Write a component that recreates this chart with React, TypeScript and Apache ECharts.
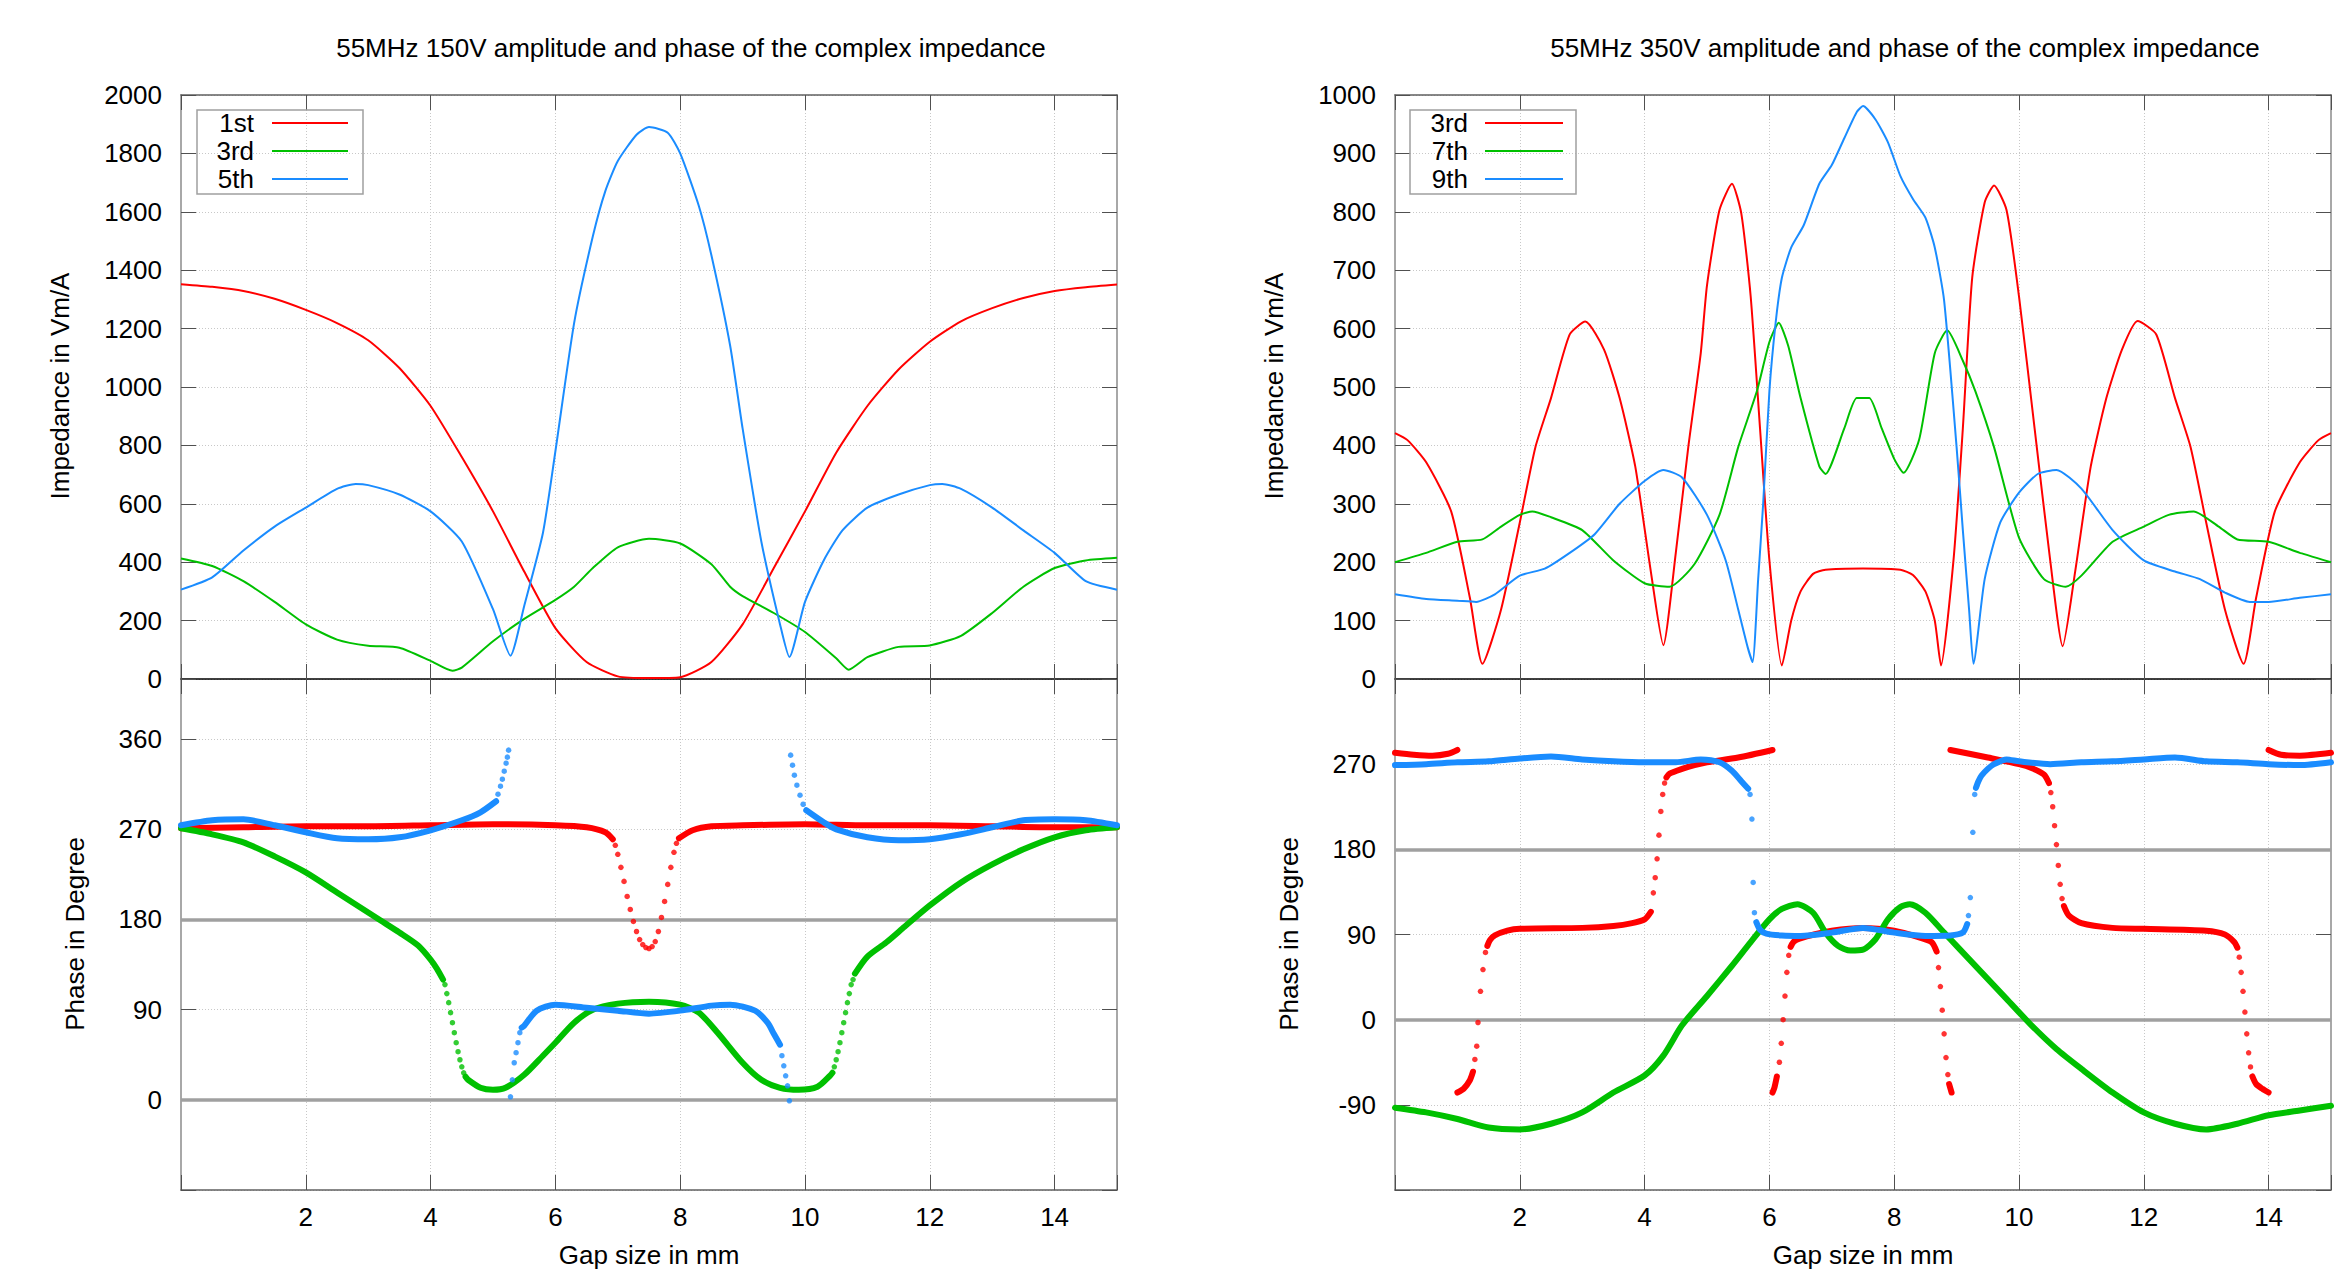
import React, { useEffect, useRef } from 'react';
import * as echarts from 'echarts';

type P = [number, number];

// ---------- texts ----------
const TITLE_LEFT = '55MHz 150V amplitude and phase of the complex impedance';
const TITLE_RIGHT = '55MHz 350V amplitude and phase of the complex impedance';
const Y_NAME_IMP = 'Impedance in Vm/A';
const Y_NAME_PHASE = 'Phase in Degree';
const X_NAME = 'Gap size in mm';
const LEGEND_LEFT = ['1st', '3rd', '5th'];
const LEGEND_RIGHT = ['3rd', '7th', '9th'];

// ---------- tick labels ----------
const X_TICK_LABELS = [2, 4, 6, 8, 10, 12, 14];
const IMP_LEFT_TICKS = [0, 200, 400, 600, 800, 1000, 1200, 1400, 1600, 1800, 2000];
const IMP_RIGHT_TICKS = [0, 100, 200, 300, 400, 500, 600, 700, 800, 900, 1000];
const PHASE_LEFT_TICKS = [0, 90, 180, 270, 360];
const PHASE_RIGHT_TICKS = [-90, 0, 90, 180, 270];
const PHASE_REF_LINES = [0, 180];

// ---------- left panel (150 V) impedance ----------
const impL1st: P[] = [[0,1352],[0.5,1343],[1,1329],[1.5,1302],[2,1264],[2.5,1219],[3,1160],[3.5,1065],[4,935],[4.5,760],[5,574],[5.5,368],[6,174],[6.5,58],[7,9],[7.5,3],[8,6],[8.5,58],[9,187],[9.5,380],[10,574],[10.5,775],[11,935],[11.5,1060],[12,1155],[12.5,1225],[13,1270],[13.5,1305],[14,1329],[14.5,1342],[15,1351]];
const impL3rd: P[] = [[0,413],[0.5,387],[1,335],[1.5,264],[2,187],[2.5,135],[3,114],[3.5,107],[4,62],[4.35,28],[4.5,39],[5,129],[5.5,206],[6,271],[6.3,316],[6.6,380],[7,451],[7.5,480],[8,464],[8.5,393],[8.8,316],[9,284],[9.5,226],[10,161],[10.5,71],[10.7,32],[11,75],[11.5,110],[12,115],[12.5,148],[13,226],[13.5,316],[14,380],[14.5,406],[15,415]];
const impL5th: P[] = [[0,306],[0.5,348],[1,440],[1.5,522],[2,587],[2.5,651],[2.8,668],[3,664],[3.5,632],[4,574],[4.5,471],[5,239],[5.28,80],[5.5,250],[5.8,500],[6,780],[6.3,1219],[6.6,1516],[6.8,1671],[7,1774],[7.3,1864],[7.5,1890],[7.8,1871],[8,1800],[8.3,1619],[8.5,1451],[8.8,1142],[9,858],[9.3,471],[9.6,187],[9.75,75],[10,264],[10.3,406],[10.6,509],[11,587],[11.5,632],[12,664],[12.2,668],[12.5,651],[13,587],[13.5,509],[14,432],[14.5,335],[15,306]];

// ---------- right panel (350 V) impedance ----------
const impR3rd: P[] = [[0,421],[0.2,409],[0.5,371],[0.9,287],[1.2,139],[1.4,26],[1.7,119],[2,268],[2.25,397],[2.5,481],[2.8,590],[3.05,612],[3.35,564],[3.6,481],[3.85,364],[4.1,184],[4.3,58],[4.5,216],[4.7,397],[4.9,558],[5,674],[5.2,803],[5.4,848],[5.55,797],[5.7,655],[5.85,429],[6,203],[6.2,23],[6.35,100],[6.5,150],[6.7,180],[6.9,187],[7.5,189],[8.1,187],[8.3,178],[8.5,150],[8.65,100],[8.75,23],[8.95,203],[9.1,429],[9.25,687],[9.45,816],[9.6,845],[9.8,803],[10,655],[10.25,429],[10.5,203],[10.7,56],[10.9,184],[11.15,364],[11.4,481],[11.65,564],[11.9,613],[12.2,590],[12.5,481],[12.75,397],[13,268],[13.3,119],[13.6,26],[13.8,139],[14.1,287],[14.5,371],[14.8,409],[15,421]];
const impR7th: P[] = [[0,200],[0.5,216],[1,235],[1.4,239],[1.7,261],[2,281],[2.2,287],[2.5,277],[3,255],[3.5,203],[4,164],[4.4,158],[4.8,197],[5.2,281],[5.5,397],[5.8,493],[6,577],[6.15,610],[6.3,571],[6.5,481],[6.8,364],[6.9,351],[7.2,429],[7.4,481],[7.6,481],[7.8,429],[8,377],[8.15,353],[8.4,410],[8.65,558],[8.85,597],[9.1,545],[9.3,493],[9.6,397],[10,242],[10.4,171],[10.75,158],[11,177],[11.5,235],[12,261],[12.4,281],[12.8,287],[13.2,261],[13.5,239],[14,235],[14.5,216],[15,200]];
const impR9th: P[] = [[0,145],[0.5,137],[1,134],[1.3,132],[1.6,145],[2,177],[2.4,189],[2.8,216],[3.2,248],[3.6,300],[4,339],[4.3,358],[4.6,345],[5,281],[5.3,203],[5.5,119],[5.65,55],[5.73,29],[5.82,171],[5.9,300],[6,493],[6.1,610],[6.2,687],[6.35,739],[6.55,777],[6.8,848],[7,880],[7.2,926],[7.4,971],[7.5,981],[7.7,958],[7.9,919],[8.1,861],[8.3,822],[8.5,790],[8.65,739],[8.8,648],[9,397],[9.1,255],[9.2,119],[9.27,26],[9.45,171],[9.7,268],[10,319],[10.3,351],[10.6,358],[11,326],[11.5,255],[12,203],[12.5,184],[12.9,171],[13.3,148],[13.7,132],[14,132],[14.5,139],[15,145]];

// ---------- left panel phase (bands = dense sample runs, dots = sparse samples) ----------
const phL1stBands: P[][] = [
  [[0,271],[1,272],[2,273],[3,273],[4,274],[5,275],[6,274],[6.5,272],[6.8,267],[6.92,260]],
  [[7.98,261],[8.2,269],[8.5,273],[9,274],[10,275],[11,274],[12,274],[13,273],[14,272],[15,272]],
];
const phL1stDots: P[] = [[6.96,254],[7.0,245],[7.05,232],[7.1,218],[7.15,203],[7.2,190],[7.25,178],[7.3,168],[7.35,160],[7.4,155],[7.45,152],[7.5,151],[7.55,153],[7.6,158],[7.65,168],[7.7,182],[7.75,198],[7.8,215],[7.85,232],[7.9,247],[7.94,256]];
const phL3rdBands: P[][] = [
  [[0,271],[0.5,265],[1,257],[1.5,243],[2,227],[2.5,207],[3,187],[3.2,179],[3.5,167],[3.8,154],[4.0,140],[4.1,131],[4.2,120]],
  [[4.56,23],[4.6,20],[4.8,12],[5.0,10],[5.2,12],[5.5,25],[5.8,44],[6.0,57],[6.3,77],[6.6,90],[7.0,96],[7.5,98],[8.0,95],[8.3,87],[8.6,67],[9.0,37],[9.3,20],[9.6,12],[9.9,10],[10.2,13],[10.4,24],[10.44,27]],
  [[10.8,126],[11,143],[11.3,157],[11.6,173],[12,194],[12.5,217],[13,235],[13.5,250],[14,262],[14.5,269],[15,272]],
];
const phL3rdDots: P[] = [[4.23,115],[4.26,106],[4.29,97],[4.32,87],[4.35,77],[4.38,67],[4.41,57],[4.44,48],[4.47,40],[4.5,33],[4.53,27],[10.47,33],[10.5,40],[10.53,48],[10.56,57],[10.59,67],[10.62,77],[10.65,87],[10.68,97],[10.71,106],[10.74,115],[10.77,120]];
const phL5thBands: P[][] = [
  [[0,274],[0.5,279],[1,280],[1.5,274],[2,267],[2.5,261],[3,260],[3.5,262],[4,269],[4.5,279],[4.8,287],[5.05,298]],
  [[5.46,72],[5.5,74],[5.7,89],[6,95],[6.5,92],[7,89],[7.5,86],[8,89],[8.5,94],[8.8,95],[9.2,89],[9.4,77],[9.5,66],[9.6,55]],
  [[10.02,289],[10.3,277],[10.5,270],[11,262],[11.5,259],[12,260],[12.5,265],[13,272],[13.5,279],[14,280],[14.5,279],[15,274]],
];
const phL5thDots: P[] = [[5.08,305],[5.12,313],[5.15,320],[5.18,328],[5.21,336],[5.23,342],[5.25,349],[5.28,3],[5.31,20],[5.34,37],[5.37,47],[5.4,57],[5.43,67],[9.63,44],[9.66,34],[9.69,24],[9.72,14],[9.75,-1],[9.77,344],[9.8,334],[9.83,324],[9.87,314],[9.92,304],[9.97,295]];

// ---------- right panel phase ----------
const phR3rdBands: P[][] = [
  [[0,282],[0.3,280],[0.6,279],[0.85,281],[1.0,285]],
  [[1.0,-77],[1.1,-73],[1.2,-64],[1.25,-55]],
  [[1.48,78],[1.52,84],[1.6,89],[1.8,94],[2,96],[3,97],[3.5,99],[3.8,102],[4.0,106],[4.1,114]],
  [[4.35,256],[4.4,260],[4.6,265],[4.8,269],[5,272],[5.5,277],[6.05,285]],
  [[6.05,-77],[6.08,-72],[6.12,-60]],
  [[6.34,77],[6.4,83],[6.6,88],[7,94],[7.5,97],[8,94],[8.4,87],[8.6,82],[8.68,72]],
  [[8.88,-68],[8.92,-77]],
  [[8.9,285],[9.5,277],[10,270],[10.2,266],[10.4,259],[10.48,250]],
  [[10.72,120],[10.8,110],[11,102],[11.5,97],[12,96],[13,94],[13.3,90],[13.45,82],[13.5,76]],
  [[13.74,-60],[13.8,-68],[13.9,-73],[14.0,-77]],
  [[14,285],[14.2,280],[14.5,279],[15,282]],
];
const phR3rdDots: P[] = [[1.28,-42],[1.31,-28],[1.33,-3],[1.37,30],[1.41,53],[1.45,71],[4.14,134],[4.17,150],[4.2,170],[4.23,195],[4.26,220],[4.29,238],[4.32,250],[6.16,-45],[6.19,-25],[6.22,0],[6.25,25],[6.28,50],[6.31,68],[8.71,55],[8.74,35],[8.77,10],[8.8,-15],[8.83,-40],[8.86,-58],[10.51,240],[10.54,225],[10.57,205],[10.6,185],[10.63,163],[10.66,143],[10.69,128],[13.53,66],[13.56,50],[13.59,30],[13.62,8],[13.65,-15],[13.68,-35],[13.71,-50]];
const phR7thBands: P[][] = [
  [[0,-93],[0.5,-98],[1,-105],[1.5,-114],[2,-116],[2.5,-110],[3,-98],[3.5,-77],[4,-59],[4.3,-38],[4.6,-6],[5,25],[5.4,57],[5.7,82],[6,106],[6.2,117],[6.45,122],[6.7,113],[6.9,92],[7.1,78],[7.3,73],[7.5,74],[7.7,85],[7.9,106],[8.1,119],[8.25,122],[8.5,113],[8.8,92],[9,78],[9.4,50],[9.8,22],[10.2,-6],[10.6,-31],[11,-52],[11.5,-77],[12,-98],[12.5,-110],[13,-116],[13.5,-110],[14,-101],[14.5,-96],[15,-91]],
];
const phR7thDots: P[] = [];
const phR9thBands: P[][] = [
  [[0,269],[0.5,270],[1,272],[1.5,273],[2,276],[2.5,278],[3,275],[3.5,273],[4,272],[4.5,272],[4.9,275],[5.2,272],[5.4,263],[5.55,252],[5.66,244]],
  [[5.79,103],[5.85,95],[5.95,91],[6.2,89],[6.5,88.5],[7,92],[7.5,97],[8,92],[8.5,88.5],[8.9,89],[9.1,92],[9.17,101]],
  [[9.31,245],[9.35,252],[9.4,258],[9.5,265],[9.6,270],[9.8,275],[10,273],[10.5,270],[11,272],[11.5,273],[12,275],[12.5,277],[13,273],[13.5,272],[14,270],[14.5,269],[15,272]],
];
const phR9thDots: P[] = [[5.69,238],[5.72,212],[5.74,145],[5.76,113],[9.19,110],[9.22,129],[9.26,198],[9.29,238]];

// ---------- styling ----------
const FONT = '"Liberation Sans", Arial, Helvetica, sans-serif';
const FS = 26;
const RED = '#ff0000';
const GREEN = '#00c000';
const BLUE = '#1a8cff';

const W = 2344;
const H = 1270;
const PLOT_W = 936;
const LEFT_X = 181;
const RIGHT_X = 1395;
const UP_TOP = 95;
const UP_H = 584;
const LOW_TOP = 679;
const LOW_H = 511;

function buildOption() {
  const grids = [
    { left: LEFT_X, top: UP_TOP, width: PLOT_W, height: UP_H },
    { left: LEFT_X, top: LOW_TOP, width: PLOT_W, height: LOW_H },
    { left: RIGHT_X, top: UP_TOP, width: PLOT_W, height: UP_H },
    { left: RIGHT_X, top: LOW_TOP, width: PLOT_W, height: LOW_H },
  ].map((g) => ({ ...g, containLabel: false, show: false }));

  const xAxes: any[] = [];
  const yAxes: any[] = [];
  const tick = { show: true, inside: true, length: 15, lineStyle: { color: '#505050', width: 1 } };
  const gridLine = { show: true, lineStyle: { color: '#c8c8c8', width: 1, type: [1, 2] } };
  const labelBase = { fontSize: FS, color: '#000', fontFamily: FONT };

  function addAxes(g: number, ymin: number, ymax: number, yint: number, yLabels: number[], lower: boolean) {
    xAxes.push({
      gridIndex: g, type: 'value', min: 0, max: 15, interval: 2, position: 'bottom',
      axisLine: { show: true, onZero: false, lineStyle: { color: lower ? '#606060' : '#000000', width: 1.5 } },
      axisTick: tick, splitLine: gridLine,
      axisLabel: { ...labelBase, show: lower, margin: 14, formatter: (v: number) => (X_TICK_LABELS.includes(v) ? String(v) : '') },
    });
    xAxes.push({
      gridIndex: g, type: 'value', min: 0, max: 15, interval: 2, position: 'top',
      axisLine: { show: !lower, onZero: false, lineStyle: { color: '#606060', width: 1.5 } },
      axisTick: tick, axisLabel: { show: false }, splitLine: { show: false },
    });
    yAxes.push({
      gridIndex: g, type: 'value', min: ymin, max: ymax, interval: yint, position: 'left',
      axisLine: { show: true, onZero: false, lineStyle: { color: '#a8a8a8', width: 2 } },
      axisTick: tick, splitLine: gridLine,
      axisLabel: { ...labelBase, margin: 19, formatter: (v: number) => (yLabels.includes(v) ? String(v) : '') },
    });
    yAxes.push({
      gridIndex: g, type: 'value', min: ymin, max: ymax, interval: yint, position: 'right',
      axisLine: { show: true, onZero: false, lineStyle: { color: '#a8a8a8', width: 2 } },
      axisTick: tick, axisLabel: { show: false }, splitLine: { show: false },
    });
  }
  addAxes(0, 0, 2000, 200, IMP_LEFT_TICKS, false);
  addAxes(1, -90, 420, 90, PHASE_LEFT_TICKS, true);
  addAxes(2, 0, 1000, 100, IMP_RIGHT_TICKS, false);
  addAxes(3, -180, 360, 90, PHASE_RIGHT_TICKS, true);

  const series: any[] = [];
  let z = 3;
  const imp = (data: P[], color: string, g: number) => {
    series.push({
      type: 'line', data, xAxisIndex: 2 * g, yAxisIndex: 2 * g, symbol: 'none', showSymbol: false,
      smooth: 0.2, silent: true, z: z++,
      lineStyle: { color, width: 2, join: 'round' }, itemStyle: { color },
    });
  };
  const phase = (bands: P[][], dots: P[], color: string, g: number) => {
    const zz = z++;
    bands.forEach((b) => {
      series.push({
        type: 'line', data: b, xAxisIndex: 2 * g, yAxisIndex: 2 * g, symbol: 'none', showSymbol: false,
        smooth: 0.25, silent: true, z: zz,
        lineStyle: { color, width: 6, cap: 'round', join: 'round' }, itemStyle: { color },
      });
    });
    if (dots.length) {
      series.push({
        type: 'scatter', data: dots, xAxisIndex: 2 * g, yAxisIndex: 2 * g, symbol: 'circle', symbolSize: 5.5,
        silent: true, z: zz, itemStyle: { color },
      });
    }
  };
  const refLines = (g: number) => {
    series.push({
      type: 'line', data: [], xAxisIndex: 2 * g, yAxisIndex: 2 * g, symbol: 'none', silent: true, z: 2,
      markLine: {
        silent: true, symbol: ['none', 'none'], label: { show: false },
        lineStyle: { color: '#a0a0a0', width: 3.5, type: 'solid' },
        data: PHASE_REF_LINES.map((v) => ({ yAxis: v })),
      },
    });
  };

  imp(impL1st, RED, 0);
  imp(impL3rd, GREEN, 0);
  imp(impL5th, BLUE, 0);
  refLines(1);
  phase(phL1stBands, phL1stDots, RED, 1);
  phase(phL3rdBands, phL3rdDots, GREEN, 1);
  phase(phL5thBands, phL5thDots, BLUE, 1);
  imp(impR3rd, RED, 2);
  imp(impR7th, GREEN, 2);
  imp(impR9th, BLUE, 2);
  refLines(3);
  phase(phR3rdBands, phR3rdDots, RED, 3);
  phase(phR7thBands, phR7thDots, GREEN, 3);
  phase(phR9thBands, phR9thDots, BLUE, 3);

  const txt = (text: string, x: number, y: number, opts: any = {}) => ({
    type: 'text', x, y, rotation: opts.rotation || 0, z: 100,
    style: {
      text, fill: '#000', font: `${FS}px ${FONT}`, fontSize: FS, fontFamily: FONT,
      align: opts.align || 'center', textAlign: opts.align || 'center',
      verticalAlign: 'middle', textVerticalAlign: 'middle',
    },
  });

  const legend = (x0: number, names: string[], colors: string[], textRight: number, l1: number, l2: number) => {
    const els: any[] = [
      { type: 'rect', shape: { x: x0, y: 110, width: 166, height: 84 }, style: { fill: 'rgba(0,0,0,0)', stroke: '#a0a0a0', lineWidth: 1.5 }, z: 100 },
    ];
    const rows = [123, 151, 179];
    names.forEach((n, i) => {
      els.push(txt(n, textRight, rows[i], { align: 'right' }));
      els.push({ type: 'line', shape: { x1: l1, y1: rows[i], x2: l2, y2: rows[i] }, style: { stroke: colors[i], lineWidth: 2 }, z: 100 });
    });
    return els;
  };

  const graphic: any[] = [
    txt(TITLE_LEFT, 691, 48),
    txt(TITLE_RIGHT, 1905, 48),
    txt(Y_NAME_IMP, 60, 386, { rotation: Math.PI / 2 }),
    txt(Y_NAME_PHASE, 75, 934, { rotation: Math.PI / 2 }),
    txt(Y_NAME_IMP, 1274, 386, { rotation: Math.PI / 2 }),
    txt(Y_NAME_PHASE, 1289, 934, { rotation: Math.PI / 2 }),
    txt(X_NAME, 649, 1255),
    txt(X_NAME, 1863, 1255),
    ...legend(197, LEGEND_LEFT, [RED, GREEN, BLUE], 254, 272, 348),
    ...legend(1410, LEGEND_RIGHT, [RED, GREEN, BLUE], 1468, 1485, 1563),
  ];

  return {
    animation: false,
    backgroundColor: '#ffffff',
    grid: grids,
    xAxis: xAxes,
    yAxis: yAxes,
    series,
    graphic,
  };
}

export default function App() {
  const ref = useRef<HTMLDivElement>(null);
  useEffect(() => {
    if (!ref.current) return;
    const chart = echarts.init(ref.current, undefined, { renderer: 'svg', width: W, height: H });
    chart.setOption(buildOption() as any);
    return () => chart.dispose();
  }, []);
  return (
    <div
      ref={ref}
      style={{ position: 'fixed', left: 0, top: 0, width: W, height: H, background: '#fff' }}
    />
  );
}
